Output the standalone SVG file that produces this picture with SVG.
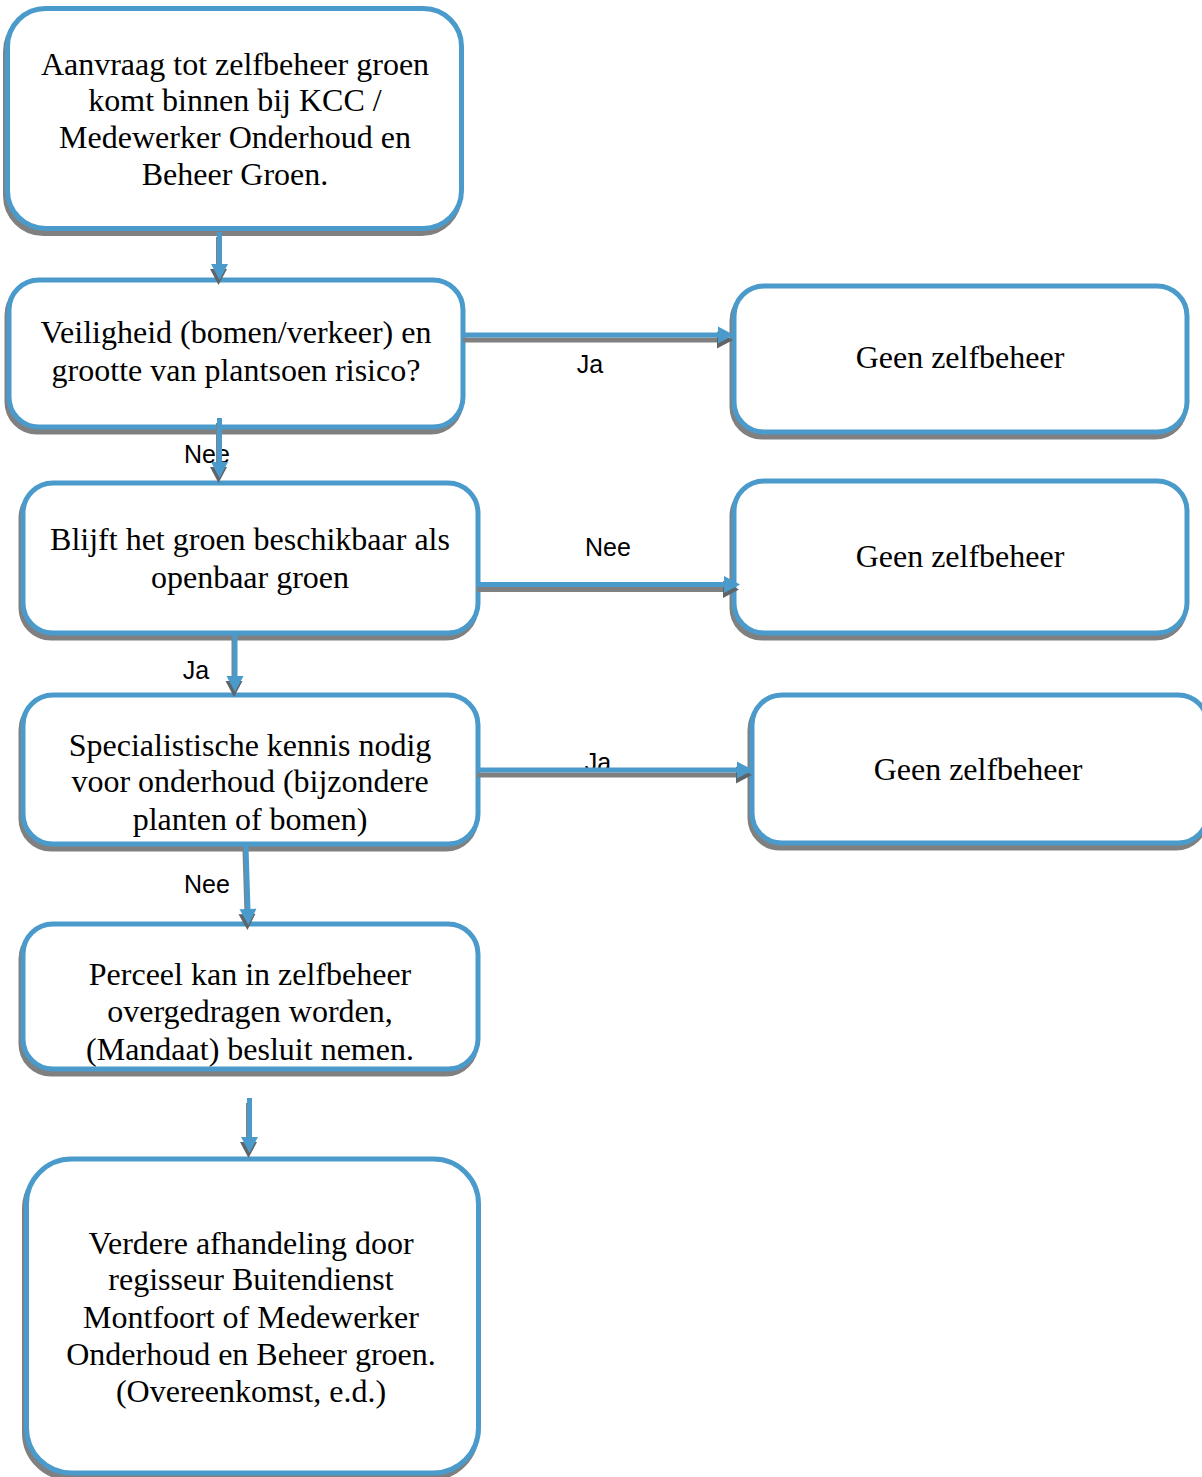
<svg xmlns="http://www.w3.org/2000/svg" width="1202" height="1477" viewBox="0 0 1202 1477">
<style>
.sh{fill:#808080;stroke:#808080;stroke-width:5}
.bx{fill:#ffffff;stroke:#4a9bcb;stroke-width:5}
.t{font-family:"Liberation Serif","Times New Roman",serif;font-size:32px;fill:#000;text-anchor:middle}
.lb{font-family:"Liberation Sans",Arial,sans-serif;font-size:25px;fill:#000;text-anchor:middle}
.ln{fill:none;stroke:#4a9bcb;stroke-width:5}
.lns{fill:none;stroke:#808080;stroke-width:5}
</style>
<defs>
<marker id="ab" markerUnits="userSpaceOnUse" markerWidth="18" markerHeight="18" refX="1" refY="8.5" orient="auto" overflow="visible">
<path d="M0,0 L16,8.5 L0,17 z" fill="#4a9bcb"/>
</marker>
<marker id="ag" markerUnits="userSpaceOnUse" markerWidth="18" markerHeight="18" refX="1" refY="8.5" orient="auto" overflow="visible">
<path d="M0,0 L16,8.5 L0,17 z" fill="#5f6468"/>
</marker>
</defs>
<rect width="1202" height="1477" fill="#ffffff"/>

<g id="n1">
<rect class="sh" x="5.5" y="13.5" width="454" height="220" rx="38"/>
<rect class="bx" x="7.5" y="8.5" width="454" height="220" rx="38"/>
<text class="t" x="235" y="75">Aanvraag tot zelfbeheer groen</text>
<text class="t" x="235" y="111">komt binnen bij KCC /</text>
<text class="t" x="235" y="148">Medewerker Onderhoud en</text>
<text class="t" x="235" y="185">Beheer Groen.</text>
</g>
<g id="n2">
<rect class="sh" x="7" y="285" width="454" height="147" rx="30"/>
<rect class="bx" x="9" y="280" width="454" height="147" rx="30"/>
<text class="t" x="236" y="343">Veiligheid (bomen/verkeer) en</text>
<text class="t" x="236" y="381">grootte van plantsoen risico?</text>
</g>
<g id="n3">
<rect class="sh" x="21" y="488" width="455" height="150" rx="30"/>
<rect class="bx" x="23" y="483" width="455" height="150" rx="30"/>
<text class="t" x="250" y="550">Blijft het groen beschikbaar als</text>
<text class="t" x="250" y="588">openbaar groen</text>
</g>
<g id="n4">
<rect class="sh" x="21" y="700" width="455" height="149" rx="30"/>
<rect class="bx" x="23" y="695" width="455" height="149" rx="30"/>
<text class="t" x="250" y="756">Specialistische kennis nodig</text>
<text class="t" x="250" y="792">voor onderhoud (bijzondere</text>
<text class="t" x="250" y="830">planten of bomen)</text>
</g>
<g id="n5">
<rect class="sh" x="21" y="929" width="455" height="145" rx="30"/>
<rect class="bx" x="23" y="924" width="455" height="145" rx="30"/>
<text class="t" x="250" y="985">Perceel kan in zelfbeheer</text>
<text class="t" x="250" y="1022">overgedragen worden,</text>
<text class="t" x="250" y="1060">(Mandaat) besluit nemen.</text>
</g>
<g id="n6">
<rect class="sh" x="24.5" y="1164" width="452" height="314" rx="45"/>
<rect class="bx" x="26.5" y="1159" width="452" height="314" rx="45"/>
<text class="t" x="251" y="1254">Verdere afhandeling door</text>
<text class="t" x="251" y="1290">regisseur Buitendienst</text>
<text class="t" x="251" y="1328">Montfoort of Medewerker</text>
<text class="t" x="251" y="1365">Onderhoud en Beheer groen.</text>
<text class="t" x="251" y="1402">(Overeenkomst, e.d.)</text>
</g>
<g id="r1">
<rect class="sh" x="732" y="291" width="453" height="146" rx="30"/>
<rect class="bx" x="734" y="286" width="453" height="146" rx="30"/>
<text class="t" x="960" y="368">Geen zelfbeheer</text>
</g>
<g id="r2">
<rect class="sh" x="732" y="486" width="453" height="152" rx="30"/>
<rect class="bx" x="734" y="481" width="453" height="152" rx="30"/>
<text class="t" x="960" y="567">Geen zelfbeheer</text>
</g>
<g id="r3">
<rect class="sh" x="750" y="700" width="456" height="148" rx="30"/>
<rect class="bx" x="752" y="695" width="456" height="148" rx="30"/>
<text class="t" x="978" y="780">Geen zelfbeheer</text>
</g>

<g id="labels">
<text class="lb" x="590" y="373">Ja</text>
<text class="lb" x="207" y="463">Nee</text>
<text class="lb" x="608" y="556">Nee</text>
<text class="lb" x="196" y="679">Ja</text>
<text class="lb" x="598" y="771">Ja</text>
<text class="lb" x="207" y="893">Nee</text>
</g>

<g id="connectors">
<g transform="translate(-1,5)">
<path class="lns" d="M219.5,232 V265" marker-end="url(#ag)"/>
<path class="lns" d="M464,335 H719" marker-end="url(#ag)"/>
<path class="lns" d="M219.5,418 V463" marker-end="url(#ag)"/>
<path class="lns" d="M478,584.5 H725" marker-end="url(#ag)"/>
<path class="lns" d="M235,634 V677" marker-end="url(#ag)"/>
<path class="lns" d="M478,770 H738" marker-end="url(#ag)"/>
<path class="lns" d="M246,846 L248,910" marker-end="url(#ag)"/>
<path class="lns" d="M249.5,1098 V1138" marker-end="url(#ag)"/>
</g>
<path class="ln" d="M219.5,232 V265" marker-end="url(#ab)"/>
<path class="ln" d="M464,335 H719" marker-end="url(#ab)"/>
<path class="ln" d="M219.5,418 V463" marker-end="url(#ab)"/>
<path class="ln" d="M478,584.5 H725" marker-end="url(#ab)"/>
<path class="ln" d="M235,634 V677" marker-end="url(#ab)"/>
<path class="ln" d="M478,770 H738" marker-end="url(#ab)"/>
<path class="ln" d="M246,846 L248,910" marker-end="url(#ab)"/>
<path class="ln" d="M249.5,1098 V1138" marker-end="url(#ab)"/>
</g>
</svg>
